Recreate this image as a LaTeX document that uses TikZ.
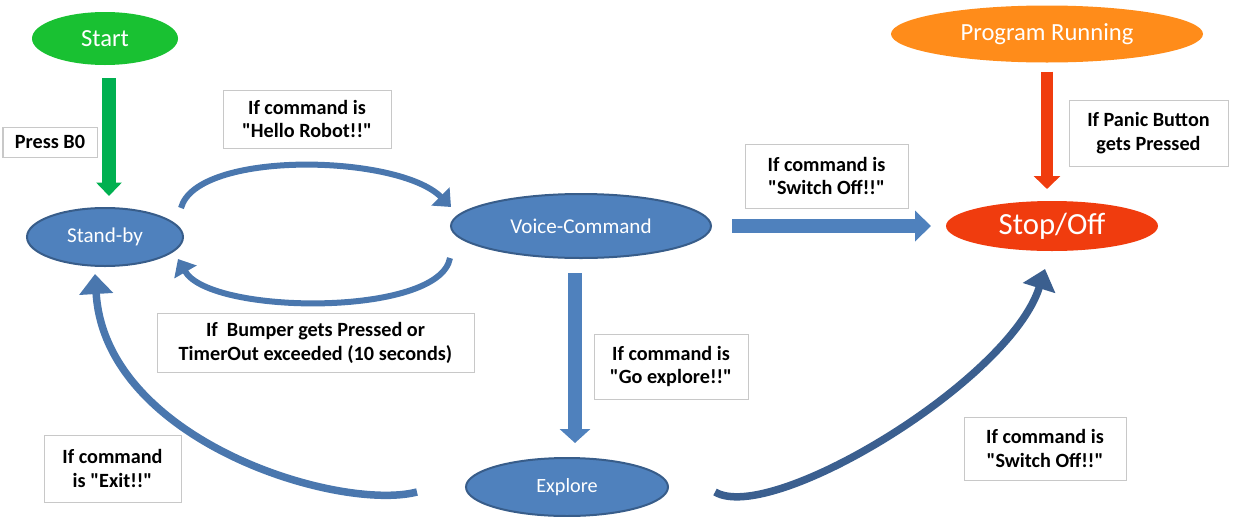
\documentclass[tikz,border=0pt]{standalone}
\usepackage{fontspec}
\setmainfont{Carlito}[Ligatures=TeXOff]
\usetikzlibrary{arrows.meta,shapes.geometric}

\definecolor{stateblue}{HTML}{4F81BD}
\definecolor{stateedge}{HTML}{385D8A}
\definecolor{startgreen}{HTML}{19C132}
\definecolor{arrowgreen}{HTML}{00B050}
\definecolor{runorange}{HTML}{FF8C1A}
\definecolor{stopred}{HTML}{F03C0E}
\definecolor{curveblue}{HTML}{4A77AE}
\definecolor{darkcurve}{HTML}{3B5F8F}
\definecolor{boxgrey}{HTML}{C8C8C8}

\tikzset{
	state/.style={ellipse, inner sep=0pt, fill=stateblue, draw=stateedge, line width=0.04cm, text=white, font=\fontsize{12}{14}\selectfont},
	note/.style={rectangle, inner sep=0pt, fill=white, draw=boxgrey, line width=0.02cm, align=center, font=\fontsize{11.5}{13.6}\selectfont\bfseries},
	blockarrow/.style={draw=stateblue, line width=0.29cm, -{Triangle[width=0.6cm,length=0.32cm]}},
	curvearrow/.style={draw=curveblue, line width=0.12cm, -{Triangle[width=0.5cm,length=0.3cm]}},
	bigcurve/.style={draw=curveblue, line width=0.15cm, -{Triangle[width=0.66cm,length=0.4cm]}},
}

\begin{document}
\begin{tikzpicture}
		%%%%% START %%%%%
		\useasboundingbox (0, 0) rectangle (25, 10.32);
		
		\node[state, fill=startgreen, draw=none, minimum width=2.92cm, minimum height=1.06cm, font=\fontsize{14}{16}\selectfont] (start) at (2.10, 9.55) {Start};
		\node[state, minimum width=3.12cm, minimum height=1.16cm] (standby) at (2.10, 5.58) {Stand-by};
		\node[state, minimum width=5.20cm, minimum height=1.28cm] (voice) at (11.62, 5.80) {Voice-Command};
		\node[state, minimum width=4.04cm, minimum height=1.16cm, font=\fontsize{11.5}{14}\selectfont] (explore) at (11.34, 0.58) {Explore};
		\node[state, fill=stopred, draw=none, minimum width=4.24cm, minimum height=1.00cm, font=\fontsize{17.5}{20}\selectfont] (stop) at (21.04, 5.80) {Stop/Off};
		\node[state, fill=runorange, draw=none, minimum width=6.24cm, minimum height=1.14cm, font=\fontsize{14}{16}\selectfont] (running) at (20.94, 9.64) {Program Running};
		
		\node[note, minimum width=1.88cm, minimum height=0.60cm] (pressbox) at (1.00, 7.48) {Press B0};
		\node[note, minimum width=3.36cm, minimum height=1.16cm] (hellobox) at (6.14, 7.94) {If command is\\"Hello Robot!!"};
		\node[note, minimum width=6.34cm, minimum height=1.18cm] (bumperbox) at (6.31, 3.47) {If~~Bumper gets Pressed or\\TimerOut exceeded (10 seconds)};
		\node[note, minimum width=3.26cm, minimum height=1.28cm] (switchtop) at (16.53, 6.80) {If command is\\"Switch Off!!"};
		\node[note, minimum width=3.18cm, minimum height=1.32cm] (panicbox) at (22.97, 7.66) {If Panic Button\\gets Pressed};
		\node[note, minimum width=3.08cm, minimum height=1.30cm] (gobox) at (13.42, 2.99) {If command is\\"Go explore!!"};
		\node[note, minimum width=2.74cm, minimum height=1.34cm] (exitbox) at (2.25, 0.95) {If command\\is "Exit!!"};
		\node[note, minimum width=3.24cm, minimum height=1.26cm] (switchbottom) at (20.90, 1.35) {If command is\\"Switch Off!!"};
		
		\draw[blockarrow, draw=arrowgreen, line width=0.28cm, -{Triangle[width=0.5cm,length=0.27cm]}, shorten <=0.24cm, shorten >=0.22cm] ([xshift=0.08cm]start.south) -- ([xshift=0.08cm]standby.north);
		\draw[blockarrow, draw=stopred, line width=0.24cm, -{Triangle[width=0.52cm,length=0.26cm]}, shorten <=0.16cm, shorten >=0.22cm] (running.south) -- (running.south |- stop.north);
		
		\draw[blockarrow, shorten <=0.40cm, shorten >=0.28cm] (voice.east) -- (stop.west);
		\draw[blockarrow, line width=0.28cm, -{Triangle[width=0.6cm,length=0.28cm]}, shorten <=0.28cm, shorten >=0.28cm] ([xshift=-0.12cm]voice.south) -- ([xshift=-0.12cm]voice.south |- explore.north);
		
		\draw[curvearrow] ([shift={(-0.06,0.58)}]standby.east) .. controls +(75:1.2) and +(135:1.5) .. ([shift={(0.02,0.38)}]voice.west);
		\draw[curvearrow] ([shift={(0,-0.64)}]voice.west) .. controls +(-100:1.2) and +(-60:1.3) .. ([shift={(-0.12,-0.44)}]standby.east);
		
		\draw[bigcurve] ([shift={(-0.96,-0.10)}]explore.west) .. controls +(-1.56,-0.40) and +(0.20,-3.34) .. ([shift={(-0.20,-0.14)}]standby.south);
		\draw[bigcurve, draw=darkcurve] ([shift={(0.92,-0.10)}]explore.east) .. controls +(1.12,-0.66) and +(-0.70,-2.24) .. ([shift={(-0.14,-0.34)}]stop.south);
		
		%%%%% END %%%%%
	\end{tikzpicture}
\end{document}
